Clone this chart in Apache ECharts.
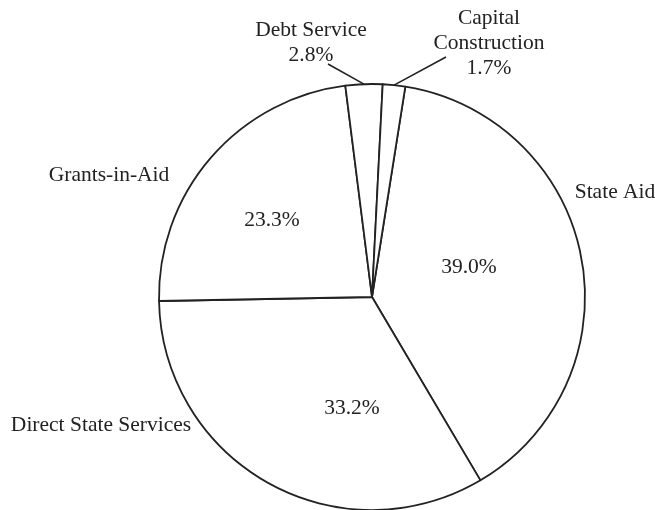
<!DOCTYPE html>
<html>
<head>
<meta charset="utf-8">
<script src="https://cdn.jsdelivr.net/npm/echarts@6/dist/echarts.min.js"></script>
<style>
  html, body { margin: 0; padding: 0; background: #fff; }
  #chart { width: 655px; height: 510px; }
</style>
</head>
<body>
<div id="chart"></div>
<script>
// slices, clockwise from State Aid
const names = ['State Aid', 'Direct State Services', 'Grants-in-Aid', 'Debt Service', 'Capital Construction'];
const labelNames = ['State Aid', 'Direct State Services', 'Grants-in-Aid', 'Debt Service', 'Capital\nConstruction'];
const shares = [39.0, 33.2, 23.3, 2.8, 1.7];
const smallSlices = [3, 4]; // labelled outside with a leader line

// where the labels sit (centre of text block)
const pctPos = {
  0: [469, 267],
  1: [352, 408],
  2: [272, 220],
  3: [311, 43],
  4: [489, 43]
};
const namePos = {
  0: [615, 192],
  1: [101, 425],
  2: [109, 175]
};
const lineEnd = {
  3: [328, 64],
  4: [446, 57]
};

const font = "'Liberation Serif', 'Times New Roman', serif";
const txt = '#222';

var chart = echarts.init(document.getElementById('chart'), null, { renderer: 'canvas' });

var mainData = names.map(function (n, i) {
  var isSmall = smallSlices.indexOf(i) >= 0;
  return {
    name: n,
    value: shares[i],
    label: { position: isSmall ? 'outside' : 'inside' },
    labelLine: { show: isSmall }
  };
});

var nameData = names.map(function (n, i) {
  return {
    name: n,
    value: shares[i],
    label: { show: smallSlices.indexOf(i) < 0 }
  };
});

var option = {
  animation: false,
  backgroundColor: '#fff',
  series: [
    {
      type: 'pie',
      center: [372, 297],
      radius: 213,
      startAngle: 81,
      clockwise: true,
      silent: true,
      avoidLabelOverlap: false,
      itemStyle: {
        color: '#fff',
        borderColor: '#222',
        borderWidth: 1.8
      },
      label: {
        show: true,
        fontFamily: font,
        fontSize: 21.5,
        lineHeight: 25,
        color: txt,
        align: 'center',
        formatter: function (p) {
          var pct = shares[p.dataIndex].toFixed(1) + '%';
          if (smallSlices.indexOf(p.dataIndex) >= 0) {
            return labelNames[p.dataIndex] + '\n' + pct;
          }
          return pct;
        }
      },
      labelLine: {
        lineStyle: { color: '#222', width: 1.6 },
        length: 10,
        length2: 0
      },
      labelLayout: function (params) {
        var pos = pctPos[params.dataIndex];
        var res = { x: pos[0], y: pos[1], align: 'center', verticalAlign: 'middle' };
        var end = lineEnd[params.dataIndex];
        if (end && params.labelLinePoints) {
          res.labelLinePoints = [params.labelLinePoints[0], end];
        }
        return res;
      },
      emphasis: { disabled: true },
      data: mainData
    },
    {
      type: 'pie',
      center: [372, 297],
      radius: 213,
      startAngle: 81,
      silent: true,
      z: 1,
      itemStyle: { color: 'rgba(0,0,0,0)', borderWidth: 0 },
      label: {
        position: 'inside',
        fontFamily: font,
        fontSize: 21.5,
        color: txt,
        formatter: function (p) {
          return labelNames[p.dataIndex];
        }
      },
      labelLine: { show: false },
      labelLayout: function (params) {
        var pos = namePos[params.dataIndex];
        if (!pos) return {};
        return { x: pos[0], y: pos[1], align: 'center', verticalAlign: 'middle' };
      },
      emphasis: { disabled: true },
      data: nameData
    }
  ]
};

chart.setOption(option);
</script>
</body>
</html>
